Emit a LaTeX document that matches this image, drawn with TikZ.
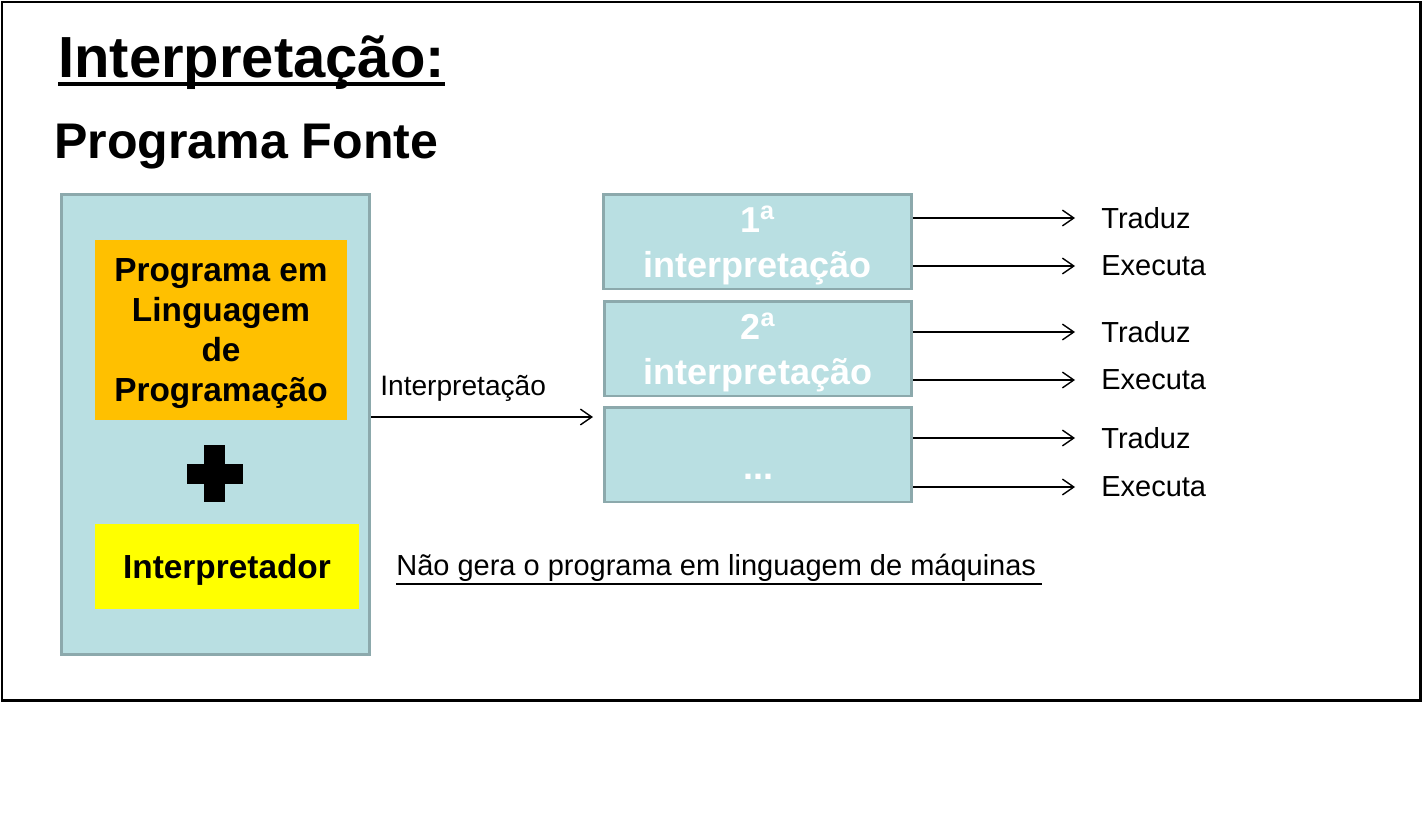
\documentclass[tikz,border=0pt]{standalone}
\usepackage{fontspec}
\setmainfont{Liberation Sans}
\usepackage{tikz}
\usetikzlibrary{arrows.meta}
\definecolor{azulclaro}{HTML}{B9DFE2}
\definecolor{cinzaborda}{HTML}{8CA9AC}
\definecolor{laranja}{HTML}{FFC000}
\definecolor{amarelo}{HTML}{FFFF00}
\newcommand{\tam}[2]{\fontsize{#1}{#2}\selectfont}
\tikzstyle{caixa} = [draw=cinzaborda, fill=azulclaro, line width=1.7pt, rectangle, inner sep=0pt]
\tikzstyle{interpbox} = [caixa, minimum width=6.16cm, minimum height=1.9cm, text=white, font=\bfseries\tam{20.5}{25.6}, align=center, text depth=0pt]
\tikzstyle{bloco} = [rectangle, inner sep=0pt, font=\bfseries\tam{19}{22.8}, align=center, text depth=0pt]
\tikzstyle{rotulo} = [font=\tam{16.5}{19.8}, inner sep=0pt]
\tikzstyle{seta} = [-{Straight Barb[length=6.5pt,width=9pt]}, line width=0.8pt]

\begin{document}
\begin{tikzpicture}[x=0.02cm, y=-0.02cm]
		\useasboundingbox (0,0) rectangle (1422,835);
		\draw[line width=1.7pt] (2,2) rectangle (1420,700);
		\node[anchor=base west, inner sep=0pt, font=\bfseries\tam{33}{40}] (titulo) at (58,77) {Interpretação:};
		\draw[line width=2pt] ([yshift=-0.14cm]titulo.base west) -- ([yshift=-0.14cm]titulo.base east);
		\node[anchor=base west, inner sep=0pt, font=\bfseries\tam{28.5}{34}] (fonte) at (54,158) {Programa Fonte};
		
		\node[caixa, minimum width=6.18cm, minimum height=9.22cm] (programa) at (215.5,424.5) {};
		\node[bloco, fill=laranja, minimum width=5.04cm, minimum height=3.6cm] (codigo) at (221,330) {Programa em\\Linguagem\\de\\Programação};
		\fill (187,464) rectangle (243,484);
		\fill (204,445) rectangle (225,502);
		\node[bloco, fill=amarelo, minimum width=5.28cm, minimum height=1.7cm] (interpretador) at (227,566.5) {Interpretador};
		
		\node[interpbox] (prim) at (757.5,241.5) {1\textsuperscript{a}\\interpretação};
		\node[interpbox] (seg) at (758,348.5) {2\textsuperscript{a}\\interpretação};
		\node[interpbox] (resto) at (758,454.5) {\raisebox{-0.7em}[0pt][0pt]{...}};
		
		\coordinate (alvo) at (593,417);
		\draw[seta] (programa.east |- alvo) -- (alvo);
		\node[rotulo, anchor=base west, font=\tam{16}{19}] (legenda) at (380,395) {Interpretação};
		
		\node[rotulo, anchor=west] (traduz1) at (1101,218) {Traduz};
		\node[rotulo, anchor=west] (executa1) at (1101,266) {Executa};
		\node[rotulo, anchor=west] (traduz2) at (1101,332) {Traduz};
		\node[rotulo, anchor=west] (executa2) at (1101,380) {Executa};
		\node[rotulo, anchor=west] (traduz3) at (1101,438) {Traduz};
		\node[rotulo, anchor=west] (executa3) at (1101,487) {Executa};
		\draw[seta] (prim.east |- traduz1) -- ([xshift=-0.52cm]traduz1.west);
		\draw[seta] (prim.east |- executa1) -- ([xshift=-0.52cm]executa1.west);
		\draw[seta] (seg.east |- traduz2) -- ([xshift=-0.52cm]traduz2.west);
		\draw[seta] (seg.east |- executa2) -- ([xshift=-0.52cm]executa2.west);
		\draw[seta] (resto.east |- traduz3) -- ([xshift=-0.52cm]traduz3.west);
		\draw[seta] (resto.east |- executa3) -- ([xshift=-0.52cm]executa3.west);
		
		\node[rotulo, anchor=base west] (nota) at (396,575) {Não gera o programa em linguagem de máquinas};
		\draw[line width=1.1pt] ([yshift=-0.18cm]nota.base west) -- ([yshift=-0.18cm, xshift=0.12cm]nota.base east);
	\end{tikzpicture}
\end{document}
